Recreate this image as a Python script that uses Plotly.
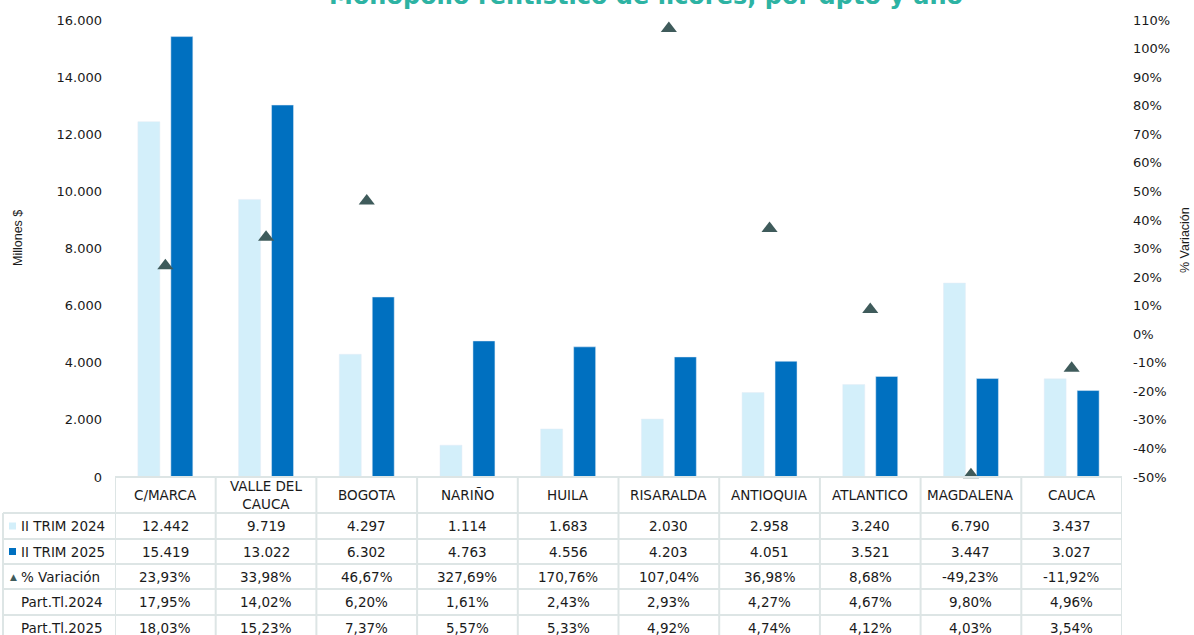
import plotly.graph_objects as go

categories = ["C/MARCA", "VALLE DEL<br>CAUCA", "BOGOTA", "NARIÑO", "HUILA",
              "RISARALDA", "ANTIOQUIA", "ATLANTICO", "MAGDALENA", "CAUCA"]
trim_2024 = [12442, 9719, 4297, 1114, 1683, 2030, 2958, 3240, 6790, 3437]
trim_2025 = [15419, 13022, 6302, 4763, 4556, 4203, 4051, 3521, 3447, 3027]
variacion = [23.93, 33.98, 46.67, 327.69, 170.76, 107.04, 36.98, 8.68, -49.23, -11.92]
part_2024 = [17.95, 14.02, 6.20, 1.61, 2.43, 2.93, 4.27, 4.67, 9.80, 4.96]
part_2025 = [18.03, 15.23, 7.37, 5.57, 5.33, 4.92, 4.74, 4.12, 4.03, 3.54]

left_ticks = [0, 2000, 4000, 6000, 8000, 10000, 12000, 14000, 16000]
right_ticks = list(range(-50, 111, 10))

C_LIGHT = "#d3effa"
C_DARK = "#0070c0"
C_TRI = "#3f5b5b"
C_GRID = "#dde5e5"
C_TITLE = "#2db3a3"
TABLE_FONT = dict(family="Verdana, DejaVu Sans, sans-serif", size=13.5, color="#1a1a1a")

W, H = 1194, 635
L, R, T, B = 115, 1122, 20, 477
PW, PH = R - L, B - T


def py(p):  # pixel y -> paper y
    return (B - p) / PH


def px(p):  # pixel x -> paper x
    return (p - L) / PW


def fmt_int(v):
    return f"{v:,}".replace(",", ".")


def fmt_pct(v):
    return f"{v:.2f}".replace(".", ",") + "%"


xs = list(range(len(categories)))

fig = go.Figure()
fig.add_trace(go.Bar(x=xs, y=trim_2024, name="II TRIM 2024", marker_color=C_LIGHT))
fig.add_trace(go.Bar(x=xs, y=trim_2025, name="II TRIM 2025", marker_color=C_DARK))
fig.add_trace(go.Scatter(x=xs, y=variacion, name="% Variación", mode="markers", yaxis="y2",
                         marker=dict(symbol="triangle-up", size=14, color=C_TRI),
                         cliponaxis=False))

shapes = []
annotations = []

# table geometry (pixels)
row_edges = [477, 513, 539, 564, 589, 615, 641]
line = dict(color=C_GRID, width=2)

# header top border
shapes.append(dict(type="line", xref="x", yref="paper", x0=-0.5, x1=len(categories) - 0.5,
                   y0=py(row_edges[0]), y1=py(row_edges[0]), line=line))
# horizontal lines
for e in row_edges[1:-1]:
    shapes.append(dict(type="line", xref="paper", yref="paper", x0=px(3), x1=1,
                       y0=py(e), y1=py(e), line=line))
# vertical lines
for i in range(len(categories) + 1):
    shapes.append(dict(type="line", xref="x", yref="paper", x0=i - 0.5, x1=i - 0.5,
                       y0=py(row_edges[0]), y1=py(row_edges[-1]), line=line))
shapes.append(dict(type="line", xref="paper", yref="paper", x0=px(3), x1=px(3),
                   y0=py(row_edges[1]), y1=py(row_edges[-1]), line=line))

row_values = [
    [fmt_int(v) for v in trim_2024],
    [fmt_int(v) for v in trim_2025],
    [fmt_pct(v) for v in variacion],
    [fmt_pct(v) for v in part_2024],
    [fmt_pct(v) for v in part_2025],
]
row_labels = ["II TRIM 2024", "II TRIM 2025", "% Variación", "Part.Tl.2024", "Part.Tl.2025"]

# header cells
hy = py((row_edges[0] + row_edges[1]) / 2)
for i, c in enumerate(categories):
    annotations.append(dict(x=i, y=hy, xref="x", yref="paper", text=c, showarrow=False,
                            font=TABLE_FONT, xanchor="center", yanchor="middle"))

for r, (lab, vals) in enumerate(zip(row_labels, row_values)):
    cy = py((row_edges[r + 1] + row_edges[r + 2]) / 2)
    for i, t in enumerate(vals):
        annotations.append(dict(x=i, y=cy, xref="x", yref="paper", text=t, showarrow=False,
                                font=TABLE_FONT, xanchor="center", yanchor="middle"))
    annotations.append(dict(x=px(19), y=cy, xref="paper", yref="paper", text=lab,
                            showarrow=False, font=TABLE_FONT, xanchor="left", yanchor="middle"))
    # legend keys
    if r in (0, 1):
        sz = 7
        cyp = (row_edges[r + 1] + row_edges[r + 2]) / 2
        shapes.append(dict(type="rect", xref="paper", yref="paper",
                           x0=px(9), x1=px(9 + sz), y0=py(cyp - sz / 2), y1=py(cyp + sz / 2),
                           fillcolor=[C_LIGHT, C_DARK][r], line=dict(width=0)))
    if r == 2:
        annotations.append(dict(x=px(13), y=cy, xref="paper", yref="paper", text="▲",
                                showarrow=False, font=dict(size=9, color=C_TRI),
                                xanchor="center", yanchor="middle"))

# axis titles
annotations.append(dict(x=px(18), y=py(238), xref="paper", yref="paper", text="Millones $",
                        textangle=-90, showarrow=False, xanchor="center", yanchor="middle",
                        font=dict(family="Liberation Sans, Arial", size=12.5, color="#1a1a1a")))
annotations.append(dict(x=px(1185), y=py(240), xref="paper", yref="paper", text="% Variación",
                        textangle=-90, showarrow=False, xanchor="center", yanchor="middle",
                        font=dict(family="Liberation Sans, Arial", size=12.5, color="#1a1a1a")))
# title (cut off at top as in reference)
annotations.append(dict(x=px(646), y=py(-4), xref="paper", yref="paper",
                        text="<b>Monopolio rentístico de licores, por dpto y año</b>",
                        showarrow=False, xanchor="center", yanchor="middle",
                        font=dict(family="Verdana, DejaVu Sans, sans-serif", size=24, color=C_TITLE)))

fig.update_layout(
    width=W, height=H,
    margin=dict(l=L, r=W - R, t=T, b=H - B, autoexpand=False),
    paper_bgcolor="white", plot_bgcolor="white",
    separators=",.",
    barmode="group", bargap=0.345, bargroupgap=1 / 3,
    showlegend=False,
    font=dict(family="Verdana, DejaVu Sans, sans-serif", size=13, color="#1a1a1a"),
    xaxis=dict(range=[-0.5, len(categories) - 0.5], showticklabels=False, showgrid=False,
               zeroline=False, showline=False, ticks=""),
    yaxis=dict(range=[0, 16000], tickvals=left_ticks, ticktext=[fmt_int(v) for v in left_ticks],
               showgrid=False, zeroline=False, showline=False, ticks="", ticklabelstandoff=12),
    yaxis2=dict(range=[-50, 110], overlaying="y", side="right", tickvals=right_ticks,
                ticktext=[f"{v}%" for v in right_ticks], showgrid=False, zeroline=False,
                showline=False, ticks="", ticklabelstandoff=10),
    shapes=shapes, annotations=annotations,
)

fig.write_html("out.html", config={"displayModeBar": False},
               post_script="document.body.style.margin='0';document.body.style.overflow='hidden';")
